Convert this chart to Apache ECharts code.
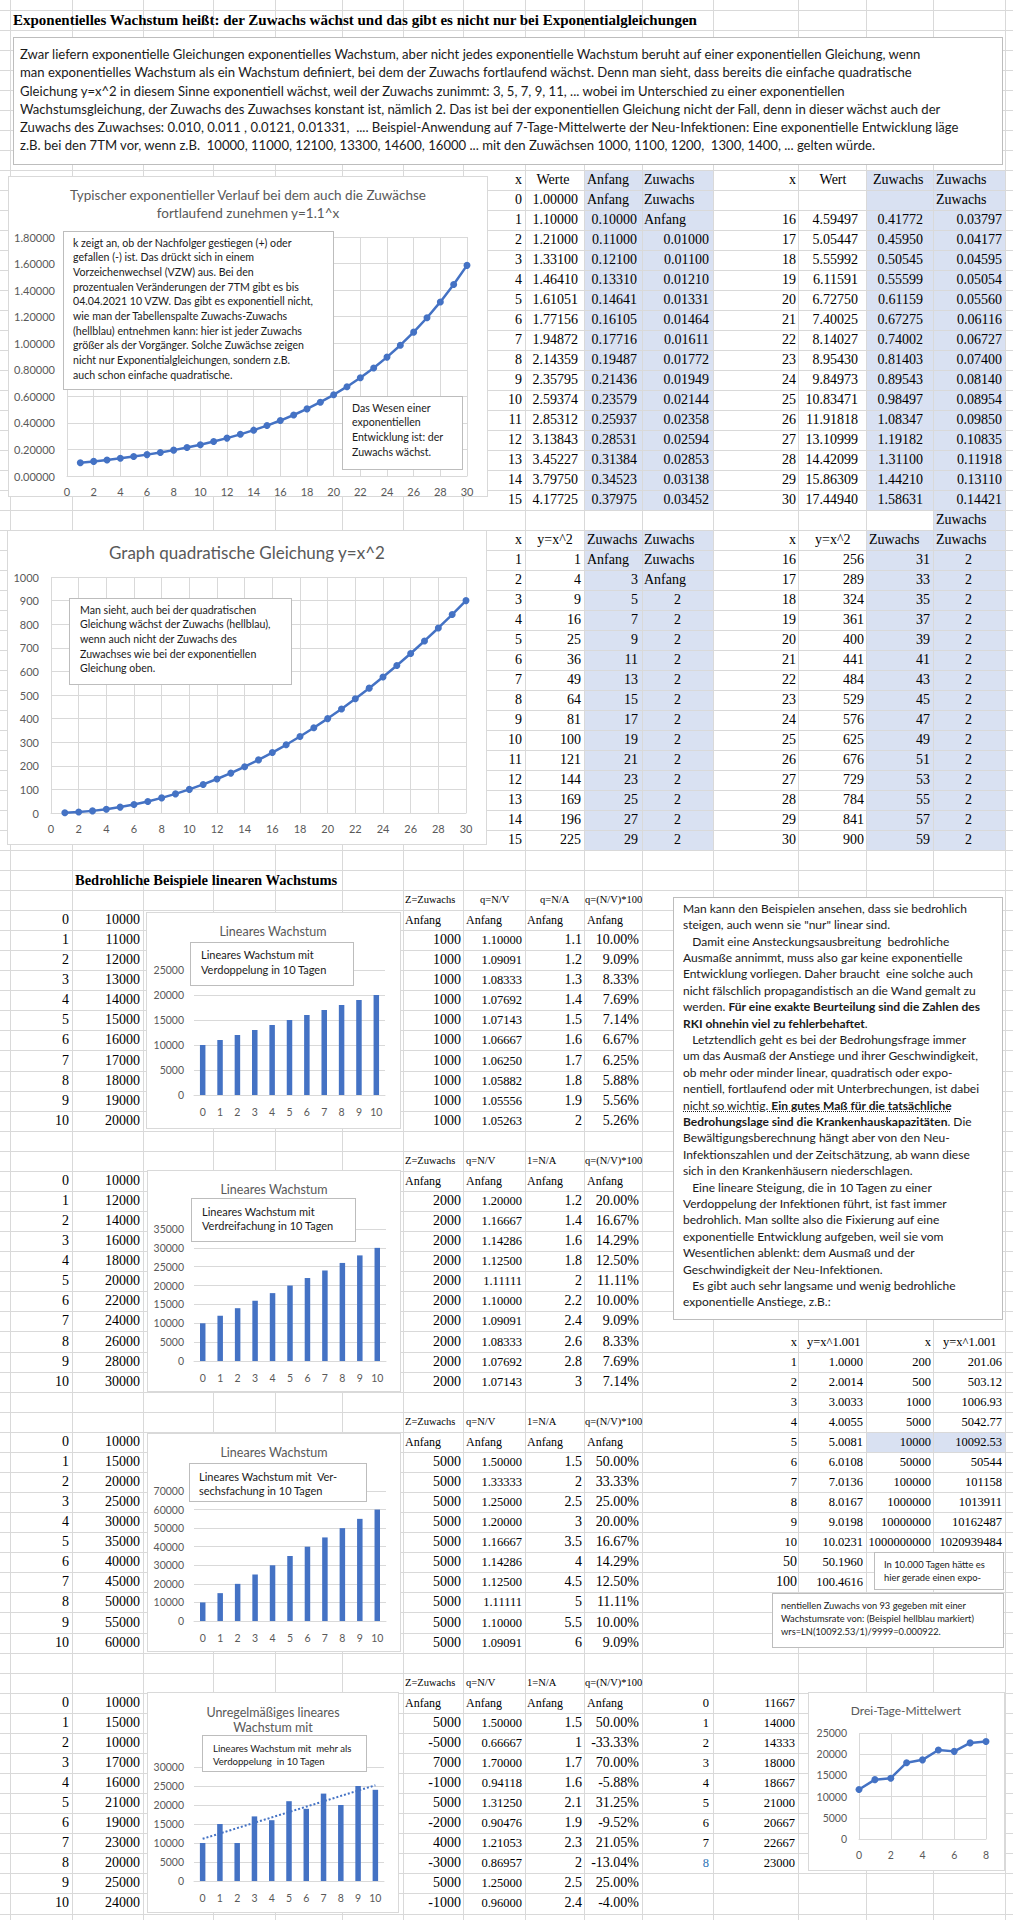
<!DOCTYPE html>
<html lang="de"><head><meta charset="utf-8"><title>Exponentielles Wachstum</title>
<script src="https://cdn.jsdelivr.net/npm/echarts@6/dist/echarts.min.js"></script>
<style>
html,body{margin:0;padding:0;background:#fff;}
#page{position:relative;width:1013px;height:1920px;overflow:hidden;}
#bg,#fg,#chart{position:absolute;left:0;top:0;width:1013px;height:1920px;}
#bg{z-index:1}#chart{z-index:2}#fg{z-index:3}
.c{position:absolute;white-space:nowrap;font-family:'Liberation Serif','Times New Roman',serif;color:#000;height:20px;line-height:20px;}
.box{position:absolute;background:#fff;border:1px solid #bdbdbd;box-sizing:border-box;font-family:Lato,'Open Sans',sans-serif;color:#1a1a1a;overflow:visible;}
.box div{position:absolute;white-space:pre;}
</style></head>
<body><div id="page"><div id="bg"></div><div id="chart"></div><div id="fg"></div></div>
<script>
// ================= DATA =================
const expX = [0,1,2,3,4,5,6,7,8,9,10,11,12,13,14,15,16,17,18,19,20,21,22,23,24,25,26,27,28,29,30];
const expWerte = [1.00000,1.10000,1.21000,1.33100,1.46410,1.61051,1.77156,1.94872,2.14359,2.35795,2.59374,2.85312,3.13843,3.45227,3.79750,4.17725,4.59497,5.05447,5.55992,6.11591,6.72750,7.40025,8.14027,8.95430,9.84973,10.83471,11.91818,13.10999,14.42099,15.86309,17.44940];
// Zuwachs for x = 1..30
const expZuwachs = [0.10000,0.11000,0.12100,0.13310,0.14641,0.16105,0.17716,0.19487,0.21436,0.23579,0.25937,0.28531,0.31384,0.34523,0.37975,0.41772,0.45950,0.50545,0.55599,0.61159,0.67275,0.74002,0.81403,0.89543,0.98497,1.08347,1.19182,1.31100,1.44210,1.58631];
// Zuwachs des Zuwachses for x = 2..30
const expZuwachsZuwachs = [0.01000,0.01100,0.01210,0.01331,0.01464,0.01611,0.01772,0.01949,0.02144,0.02358,0.02594,0.02853,0.03138,0.03452,0.03797,0.04177,0.04595,0.05054,0.05560,0.06116,0.06727,0.07400,0.08140,0.08954,0.09850,0.10835,0.11918,0.13110,0.14421];

const quadX = [1,2,3,4,5,6,7,8,9,10,11,12,13,14,15,16,17,18,19,20,21,22,23,24,25,26,27,28,29,30];
const quadY = [1,4,9,16,25,36,49,64,81,100,121,144,169,196,225,256,289,324,361,400,441,484,529,576,625,676,729,784,841,900];
// Zuwachs for x = 2..30
const quadZuwachs = [3,5,7,9,11,13,15,17,19,21,23,25,27,29,31,33,35,37,39,41,43,45,47,49,51,53,55,57,59];
// Zuwachs des Zuwachses for x = 3..30
const quadZuwachsZuwachs = [2,2,2,2,2,2,2,2,2,2,2,2,2,2,2,2,2,2,2,2,2,2,2,2,2,2,2,2];

const dayLabels = ['0','1','2','3','4','5','6','7','8','9','10'];

const linDoubleValues = [10000,11000,12000,13000,14000,15000,16000,17000,18000,19000,20000];
const linDoubleZ = [1000,1000,1000,1000,1000,1000,1000,1000,1000,1000];
const linDoubleQ = [1.10000,1.09091,1.08333,1.07692,1.07143,1.06667,1.06250,1.05882,1.05556,1.05263];
const linDoubleNA = [1.1,1.2,1.3,1.4,1.5,1.6,1.7,1.8,1.9,2];
const linDoublePct = [10.00,9.09,8.33,7.69,7.14,6.67,6.25,5.88,5.56,5.26];

const linTripleValues = [10000,12000,14000,16000,18000,20000,22000,24000,26000,28000,30000];
const linTripleZ = [2000,2000,2000,2000,2000,2000,2000,2000,2000,2000];
const linTripleQ = [1.20000,1.16667,1.14286,1.12500,1.11111,1.10000,1.09091,1.08333,1.07692,1.07143];
const linTripleNA = [1.2,1.4,1.6,1.8,2,2.2,2.4,2.6,2.8,3];
const linTriplePct = [20.00,16.67,14.29,12.50,11.11,10.00,9.09,8.33,7.69,7.14];

const linSixValues = [10000,15000,20000,25000,30000,35000,40000,45000,50000,55000,60000];
const linSixZ = [5000,5000,5000,5000,5000,5000,5000,5000,5000,5000];
const linSixQ = [1.50000,1.33333,1.25000,1.20000,1.16667,1.14286,1.12500,1.11111,1.10000,1.09091];
const linSixNA = [1.5,2,2.5,3,3.5,4,4.5,5,5.5,6];
const linSixPct = [50.00,33.33,25.00,20.00,16.67,14.29,12.50,11.11,10.00,9.09];

const irregValues = [10000,15000,10000,17000,16000,21000,19000,23000,20000,25000,24000];
const irregZ = [5000,-5000,7000,-1000,5000,-2000,4000,-3000,5000,-1000];
const irregQ = [1.50000,0.66667,1.70000,0.94118,1.31250,0.90476,1.21053,0.86957,1.25000,0.96000];
const irregNA = [1.5,1,1.7,1.6,2.1,1.9,2.3,2,2.5,2.4];
const irregPct = [50.00,-33.33,70.00,-5.88,31.25,-9.52,21.05,-13.04,25.00,-4.00];
const irregTrend = [11100, 25200]; // dotted trend line, read at day 0 and day 10

const powX1 = [1,2,3,4,5,6,7,8,9,10,50,100];
const powY1 = [1.0000,2.0014,3.0033,4.0055,5.0081,6.0108,7.0136,8.0167,9.0198,10.0231,50.1960,100.4616];
const powX2 = [200,500,1000,5000,10000,50000,100000,1000000,10000000,1000000000];
const powY2 = [201.06,503.12,1006.93,5042.77,10092.53,50544,101158,1013911,10162487,1020939484];

const dreiX = [0,1,2,3,4,5,6,7,8];
const dreiY = [11667,14000,14333,18000,18667,21000,20667,22667,23000];

// ================= SHEET (background) =================
const bg = document.getElementById('bg'), fg = document.getElementById('fg');
function el(parent, css, cls){ const d=document.createElement('div'); d.style.cssText='position:absolute;'+css; if(cls) d.className=cls; parent.appendChild(d); return d; }
function rect(x1,y1,x2,y2,css){ return el(bg, `left:${x1}px;top:${y1}px;width:${x2-x1}px;height:${y2-y1}px;`+css); }
function cell(text,x,y,align,size,extra){
  let css=`top:${(y-10).toFixed(1)}px;font-size:${size||14}px;`+(extra||'');
  if(align==='r') css+=`left:${x-300}px;width:300px;text-align:right;`;
  else if(align==='c') css+=`left:${x-150}px;width:300px;text-align:center;`;
  else css+=`left:${x}px;`;
  const d=el(bg,css,'c'); d.textContent=String(text); return d;
}
const BLUEFILL='#d9e1f2', GRID='#d9d9d9';
// fills
rect(584,170,713,510,'background:'+BLUEFILL);
rect(866,170,1005,510,'background:'+BLUEFILL);
rect(584,530,713,850,'background:'+BLUEFILL);
rect(933,510,1005,850,'background:'+BLUEFILL);
rect(866,530,933,850,'background:'+BLUEFILL);
rect(866,1432,1005,1452,'background:'+BLUEFILL);
// gridlines
const colLines=[10,72,143,213,275,342,403,463,525,584,642,713,798,866,933,1005];
colLines.forEach(x=>rect(x,0,x+1,1920,'background:'+GRID));
for(let k=0;k<=42;k++){ const y=10+20*k; rect(0,y,1013,y+1,'background:'+GRID); }
for(let k=-2;k<=50;k++){ const y=Math.round(910+20.07*k); rect(0,y,1013,y+1,'background:'+GRID); }
// chart frames
[[8,176,488,497],[7,530,487,845],[146,912,401,1129],[147,1170,401,1392],[147,1433,401,1652],[147,1692,399,1913],[808,1692,1005,1871]]
  .forEach(f=>rect(f[0],f[1],f[2],f[3],'background:#fff;border:1px solid #d9d9d9;box-sizing:border-box;'));

// headline
cell('Exponentielles Wachstum heißt: der Zuwachs wächst und das gibt es nicht nur bei Exponentialgleichungen',13,20,'l',15,'font-weight:bold;');

// top tables
const yT=r=>180+20*r;
cell('x',522,yT(0),'r'); cell('Werte',553,yT(0),'c'); cell('Anfang',587,yT(0),'l'); cell('Zuwachs',644,yT(0),'l');
for(let i=0;i<=15;i++){
  const y=yT(i+1);
  cell(expX[i],522,y,'r'); cell(expWerte[i].toFixed(5),578,y,'r');
  if(i===0){ cell('Anfang',587,y,'l'); cell('Zuwachs',644,y,'l'); }
  else { cell(expZuwachs[i-1].toFixed(5),637,y,'r'); if(i===1) cell('Anfang',644,y,'l'); else cell(expZuwachsZuwachs[i-2].toFixed(5),709,y,'r'); }
}
cell('x',796,yT(0),'r'); cell('Wert',833,yT(0),'c'); cell('Zuwachs',873,yT(0),'l'); cell('Zuwachs',936,yT(0),'l'); cell('Zuwachs',936,yT(1),'l');
for(let i=16;i<=30;i++){
  const y=yT(i-14);
  cell(expX[i],796,y,'r'); cell(expWerte[i].toFixed(5),858,y,'r'); cell(expZuwachs[i-1].toFixed(5),923,y,'r'); cell(expZuwachsZuwachs[i-2].toFixed(5),1002,y,'r');
}
cell('Zuwachs',936,yT(17),'l');
cell('x',522,yT(18),'r'); cell('y=x^2',555,yT(18),'c'); cell('Zuwachs',587,yT(18),'l'); cell('Zuwachs',644,yT(18),'l');
cell('x',796,yT(18),'r'); cell('y=x^2',815,yT(18),'l'); cell('Zuwachs',869,yT(18),'l'); cell('Zuwachs',936,yT(18),'l');
quadX.forEach((x,i)=>{
  if(x<=15){
    const y=yT(18+x);
    cell(x,522,y,'r'); cell(quadY[i],581,y,'r');
    if(x===1){ cell('Anfang',587,y,'l'); cell('Zuwachs',644,y,'l'); }
    else { cell(quadZuwachs[i-1],638,y,'r'); if(x===2) cell('Anfang',644,y,'l'); else cell(quadZuwachsZuwachs[i-2],681,y,'r'); }
  } else {
    const y=yT(x+3);
    cell(x,796,y,'r'); cell(quadY[i],864,y,'r'); cell(quadZuwachs[i-1],930,y,'r'); cell(quadZuwachsZuwachs[i-2],972,y,'r');
  }
});

// lower tables
const yL=k=>920+20.07*k;
cell('Bedrohliche Beispiele linearen Wachstums',75,yL(-2),'l',14.5,'font-weight:bold;');
const blocks=[
  {v:linDoubleValues,z:linDoubleZ,q:linDoubleQ,na:linDoubleNA,p:linDoublePct,head:-1,start:0,naLabel:'q=N/A',qx:480,nax:540},
  {v:linTripleValues,z:linTripleZ,q:linTripleQ,na:linTripleNA,p:linTriplePct,head:12,start:13,naLabel:'1=N/A',qx:466,nax:527},
  {v:linSixValues,z:linSixZ,q:linSixQ,na:linSixNA,p:linSixPct,head:25,start:26,naLabel:'1=N/A',qx:466,nax:527},
  {v:irregValues,z:irregZ,q:irregQ,na:irregNA,p:irregPct,head:38,start:39,naLabel:'1=N/A',qx:466,nax:527}
];
blocks.forEach(b=>{
  const hy=yL(b.head);
  cell('Z=Zuwachs',405,hy,'l',10.5); cell('q=N/V',b.qx,hy,'l',10.5); cell(b.naLabel,b.nax,hy,'l',10.5); cell('q=(N/V)*100',585,hy,'l',10.5);
  b.v.forEach((val,i)=>{ const y=yL(b.start+i); cell(dayLabels[i],69,y,'r',14); cell(val,140,y,'r',14); });
  const y0=yL(b.start);
  ['Anfang','Anfang','Anfang','Anfang'].forEach((t,j)=>cell(t,[405,466,527,587][j],y0,'l',12));
  b.z.forEach((zv,i)=>{
    const y=yL(b.start+1+i);
    cell(zv,461,y,'r',14); cell(b.q[i].toFixed(5),522,y,'r',12.5); cell(b.na[i],582,y,'r',14); cell(b.p[i].toFixed(2)+'%',639,y,'r',14);
  });
});
cell('x',797,yL(21),'r',12.5); cell('y=x^1.001',807,yL(21),'l',12.5); cell('x',931,yL(21),'r',12.5); cell('y=x^1.001',943,yL(21),'l',12.5);
powX1.forEach((x,i)=>{
  const y=yL(22+i);
  cell(x,797,y,'r',i>=10?14:12.5); cell(powY1[i].toFixed(4),863,y,'r',12.5);
  if(i<powX2.length){ cell(powX2[i],931,y,'r',12.5); cell(powY2[i],1002,y,'r',12.5); }
});
dreiX.forEach((x,i)=>{
  const y=yL(39+i);
  cell(x,709,y,'r',12.5,i===dreiX.length-1?'color:#2e74b5;':''); cell(dreiY[i],795,y,'r',12.5);
});

// ================= TEXT BOXES (foreground) =================
function box(x,y,w,h,lines,o){
  const b=el(fg,`left:${x}px;top:${y}px;width:${w}px;height:${h}px;font-size:${o.size}px;`,'box');
  lines.forEach((ln,i)=>{
    const d=document.createElement('div');
    d.style.cssText=`left:${o.padL}px;top:${(o.firstY-y-o.lh/2+i*o.lh).toFixed(1)}px;line-height:${o.lh}px;`;
    d.innerHTML=ln; b.appendChild(d);
  });
}
box(13,37,990,128,[
 'Zwar liefern exponentielle Gleichungen exponentielles Wachstum, aber nicht jedes exponentielle Wachstum beruht auf einer exponentiellen Gleichung, wenn',
 'man exponentielles Wachstum als ein Wachstum definiert, bei dem der Zuwachs fortlaufend wächst. Denn man sieht, dass bereits die einfache quadratische',
 'Gleichung y=x^2 in diesem Sinne exponentiell wächst, weil der Zuwachs zunimmt: 3, 5, 7, 9, 11, ... wobei im Unterschied zu einer exponentiellen',
 'Wachstumsgleichung, der Zuwachs des Zuwachses konstant ist, nämlich 2. Das ist bei der exponentiellen Gleichung nicht der Fall, denn in dieser wächst auch der',
 'Zuwachs des Zuwachses: 0.010, 0.011 , 0.0121, 0.01331,  .... Beispiel-Anwendung auf 7-Tage-Mittelwerte der Neu-Infektionen: Eine exponentielle Entwicklung läge',
 'z.B. bei den 7TM vor, wenn z.B.  10000, 11000, 12100, 13300, 14600, 16000 ... mit den Zuwächsen 1000, 1100, 1200,  1300, 1400, ... gelten würde.'
],{size:13.1,lh:18.3,firstY:53,padL:6});
box(63,231,271,159,[
 'k zeigt an, ob der Nachfolger gestiegen (+) oder',
 'gefallen (-) ist. Das drückt sich in einem',
 'Vorzeichenwechsel (VZW) aus. Bei den',
 'prozentualen Veränderungen der 7TM gibt es bis',
 '04.04.2021 10 VZW. Das gibt es exponentiell nicht,',
 'wie man der Tabellenspalte Zuwachs-Zuwachs',
 '(hellblau) entnehmen kann: hier ist jeder Zuwachs',
 'größer als der Vorgänger. Solche Zuwächse zeigen',
 'nicht nur Exponentialgleichungen, sondern z.B.',
 'auch schon einfache quadratische.'
],{size:10.6,lh:14.65,firstY:242,padL:9});
box(342,396,121,74,['Das Wesen einer','exponentiellen','Entwicklung ist: der','Zuwachs wächst.'],{size:10.6,lh:14.7,firstY:407,padL:9});
box(69,598,223,87,[
 'Man sieht, auch bei der quadratischen',
 'Gleichung wächst der Zuwachs (hellblau),',
 'wenn auch nicht der Zuwachs des',
 'Zuwachses wie bei der exponentiellen',
 'Gleichung oben.'
],{size:10.6,lh:14.7,firstY:609,padL:10});
box(190,942,164,44,['Lineares Wachstum mit','Verdoppelung in 10 Tagen'],{size:11,lh:15,firstY:953,padL:10});
box(191,1198,165,44,['Lineares Wachstum mit','Verdreifachung in 10 Tagen'],{size:11,lh:14.5,firstY:1211,padL:10});
box(189,1463,178,39,['Lineares Wachstum mit  Ver-','sechsfachung in 10 Tagen'],{size:11,lh:14,firstY:1476,padL:9});
box(202,1735,165,37,['Lineares Wachstum mit  mehr als','Verdoppelung  in 10 Tagen'],{size:9.6,lh:13,firstY:1747,padL:10});
box(673,897,330,423,[
 'Man kann den Beispielen ansehen, dass sie bedrohlich',
 'steigen, auch wenn sie "nur" linear sind.',
 '   Damit eine Ansteckungsausbreitung  bedrohliche',
 'Ausmaße annimmt, muss also gar keine exponentielle',
 'Entwicklung vorliegen. Daher braucht  eine solche auch',
 'nicht fälschlich propagandistisch an die Wand gemalt zu',
 'werden. <b>Für eine exakte Beurteilung sind die Zahlen des</b>',
 '<b>RKI ohnehin viel zu fehlerbehaftet</b>.',
 '   Letztendlich geht es bei der Bedrohungsfrage immer',
 'um das Ausmaß der Anstiege und ihrer Geschwindigkeit,',
 'ob mehr oder minder linear, quadratisch oder expo-',
 'nentiell, fortlaufend oder mit Unterbrechungen, ist dabei',
 '<u style="text-decoration-style:dotted">nicht so wichtig. <b>Ein gutes Maß für die tatsächliche</b></u>',
 '<b>Bedrohungslage sind die Krankenhauskapazitäten</b>. Die',
 'Bewältigungsberechnung hängt aber von den Neu-',
 'Infektionszahlen und der Zeitschätzung, ab wann diese',
 'sich in den Krankenhäusern niederschlagen.',
 '   Eine lineare Steigung, die in 10 Tagen zu einer',
 'Verdoppelung der Infektionen führt, ist fast immer',
 'bedrohlich. Man sollte also die Fixierung auf eine',
 'exponentielle Entwicklung aufgeben, weil sie vom',
 'Wesentlichen ablenkt: dem Ausmaß und der',
 'Geschwindigkeit der Neu-Infektionen.',
 '   Es gibt auch sehr langsame und wenig bedrohliche',
 'exponentielle Anstiege, z.B.:'
],{size:12,lh:16.4,firstY:908,padL:9});
box(874,1552,130,38,['In 10.000 Tagen hätte es','hier gerade einen expo-'],{size:9.4,lh:13,firstY:1563,padL:9});
box(772,1593,232,55,[
 'nentiellen Zuwachs von 93 gegeben mit einer',
 'Wachstumsrate von: (Beispiel hellblau markiert)',
 'wrs=LN(10092.53/1)/9999=0.000922.'
],{size:9.3,lh:13,firstY:1604,padL:8});

// ================= CHARTS =================
const BLUE='#4472c4', LBL='#595959', SPL='#d9d9d9';
const plainNum = v => String(v);
const chart=echarts.init(document.getElementById('chart'),null,{renderer:'svg',width:1013,height:1920});
function grid(l,t,w,h){return {left:l,top:t,width:w,height:h,containLabel:false,outerBoundsMode:'none'};}
function valX(gi,min,max,intv,fs,margin){return {gridIndex:gi,type:'value',min:min,max:max,interval:intv,
  axisLine:{show:true,lineStyle:{color:SPL}},axisTick:{show:false},
  axisLabel:{color:LBL,fontFamily:'Lato',fontSize:fs,margin:margin,formatter:plainNum},splitLine:{show:true,lineStyle:{color:SPL}}};}
function catX(gi){return {gridIndex:gi,type:'category',data:dayLabels,boundaryGap:true,
  axisLine:{show:true,lineStyle:{color:SPL}},axisTick:{show:false},
  axisLabel:{color:LBL,fontFamily:'Lato',fontSize:10.5,margin:11,interval:0},splitLine:{show:false}};}
function valY(gi,max,intv,fs,margin,fmt){return {gridIndex:gi,type:'value',min:0,max:max,interval:intv,
  axisLine:{show:false},axisTick:{show:false},
  axisLabel:{color:LBL,fontFamily:'Lato',fontSize:fs,margin:margin,formatter:fmt||plainNum},splitLine:{show:true,lineStyle:{color:SPL}}};}
function lineSeries(gi,data){return {type:'line',xAxisIndex:gi,yAxisIndex:gi,data:data,symbol:'circle',symbolSize:7,
  itemStyle:{color:BLUE},lineStyle:{color:BLUE,width:2.5},animation:false};}
function barSeries(gi,data){return {type:'bar',xAxisIndex:gi,yAxisIndex:gi,data:data,barWidth:5.5,itemStyle:{color:BLUE},animation:false};}
function title(lines,x,y,size,lh){return lines.map((t,i)=>({type:'text',x:x,y:y+i*lh,z:50,
  style:{text:t,fill:LBL,fontFamily:'Lato',fontSize:size,align:'center',verticalAlign:'middle'}}));}

const trendData = dayLabels.map((d,i)=> i===0 ? irregTrend[0] : (i===dayLabels.length-1 ? irregTrend[1] : null));

chart.setOption({
  animation:false,
  backgroundColor:'transparent',
  grid:[grid(67,237,400,239),grid(51,577,415,236),grid(194,970,191,125),grid(194,1229,192,132),grid(194,1491,192,130),grid(194,1767,190,114),grid(859,1733,127,106)],
  xAxis:[valX(0,0,30,2,11,10),valX(1,0,30,2,11,10),catX(2),catX(3),catX(4),catX(5),valX(6,0,8,2,10.5,10)],
  yAxis:[valY(0,1.8,0.2,11,12,v=>v.toFixed(5)),valY(1,1000,100,11,12),valY(2,25000,5000,10.5,10),valY(3,35000,5000,10.5,10),
         valY(4,70000,10000,10.5,10),valY(5,30000,5000,10.5,10),valY(6,25000,5000,10.5,12)],
  series:[
    lineSeries(0,expX.slice(1).map((x,i)=>[x,expZuwachs[i]])),
    lineSeries(1,quadX.map((x,i)=>[x,quadY[i]])),
    barSeries(2,linDoubleValues),
    barSeries(3,linTripleValues),
    barSeries(4,linSixValues),
    barSeries(5,irregValues),
    {type:'line',xAxisIndex:5,yAxisIndex:5,data:trendData,connectNulls:true,symbol:'none',
      lineStyle:{color:BLUE,width:2,type:'dotted'},z:3,animation:false},
    lineSeries(6,dreiX.map((x,i)=>[x,dreiY[i]]))
  ],
  graphic:[].concat(
    title(['Typischer exponentieller Verlauf bei dem auch die Zuwächse','fortlaufend zunehmen y=1.1^x'],248,195,13.5,18),
    title(['Graph quadratische Gleichung y=x^2'],247,552,17,20),
    title(['Lineares Wachstum'],273,931,12.5,15),
    title(['Lineares Wachstum'],274,1189,12.5,15),
    title(['Lineares Wachstum'],274,1452,12.5,15),
    title(['Unregelmäßiges lineares','Wachstum mit'],273,1712,12.5,15),
    title(['Drei-Tage-Mittelwert'],906,1710,12,15)
  )
});
</script></body></html>
